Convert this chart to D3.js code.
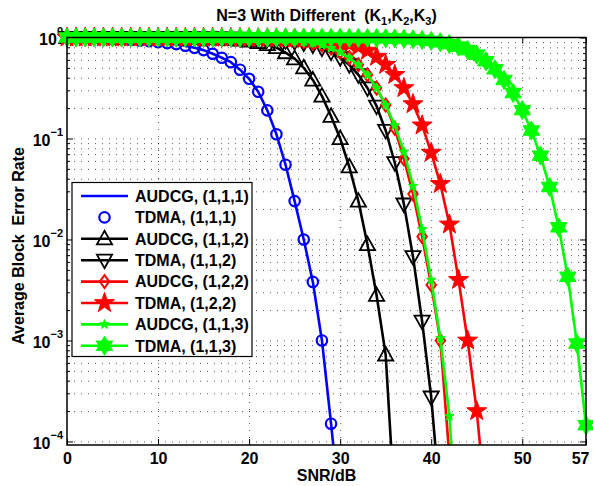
<!DOCTYPE html>
<html>
<head>
<meta charset="utf-8">
<title>N=3 With Different (K1,K2,K3)</title>
<script src="https://cdn.jsdelivr.net/npm/d3@7"></script>
<style>
  body { margin: 0; background: #fff; }
  svg text { font-family: "Liberation Sans", Arial, sans-serif; font-weight: bold; fill: #000; }
  .grid line { stroke: #000; stroke-opacity: 0.65; stroke-dasharray: 1,6; }
  .grid path { display: none; }
</style>
</head>
<body>
<svg id="vis" width="593" height="486"></svg>
<script>
// axis ticks
var xTicks = [0, 10, 20, 30, 40, 50, 57];
var yTicks = [1, 1e-1, 1e-2, 1e-3, 1e-4];
var yTickExp = ["0", "\u22121", "\u22122", "\u22123", "\u22124"];

// block error rate, one value per dB starting at 0 dB
var audcg111 = [1, 0.998, 0.995, 0.99, 0.985, 0.975, 0.965, 0.95, 0.935, 0.92,
  0.9, 0.88, 0.86, 0.83, 0.79, 0.75, 0.69, 0.63, 0.57, 0.48,
  0.39, 0.29, 0.19, 0.11, 0.055, 0.024, 0.01, 0.0038, 0.001, 0.00015, 0.00002];
var tdma111 = [1, 0.998, 0.995, 0.99, 0.985, 0.975, 0.965, 0.95, 0.935, 0.92,
  0.9, 0.88, 0.86, 0.83, 0.79, 0.75, 0.69, 0.63, 0.57, 0.48,
  0.39, 0.29, 0.19, 0.11, 0.055, 0.024, 0.01, 0.0038, 0.001, 0.00015, 0.00002];
var audcg112 = [1, 1, 0.999, 0.999, 0.998, 0.997, 0.996, 0.995, 0.994, 0.993,
  0.992, 0.991, 0.99, 0.988, 0.985, 0.982, 0.976, 0.968, 0.959, 0.944,
  0.923, 0.891, 0.851, 0.794, 0.708, 0.617, 0.501, 0.38, 0.263, 0.166,
  0.1, 0.0525, 0.024, 0.0089, 0.0028, 0.00072, 0.000022];
var tdma112 = [1, 1, 1, 0.999, 0.999, 0.999, 0.998, 0.998, 0.997, 0.996,
  0.995, 0.994, 0.993, 0.992, 0.991, 0.99, 0.988, 0.986, 0.984, 0.982,
  0.979, 0.973, 0.964, 0.951, 0.933, 0.912, 0.881, 0.841, 0.785, 0.716,
  0.631, 0.537, 0.427, 0.316, 0.209, 0.12, 0.0575, 0.0224, 0.00676, 0.00155,
  0.000275, 0.000024];
var audcg122 = [1, 1, 1, 1, 0.999, 0.999, 0.999, 0.998, 0.998, 0.997,
  0.997, 0.996, 0.995, 0.994, 0.992, 0.99, 0.988, 0.985, 0.982, 0.978,
  0.974, 0.969, 0.963, 0.958, 0.951, 0.933, 0.912, 0.881, 0.841, 0.785,
  0.716, 0.631, 0.537, 0.427, 0.316, 0.214, 0.126, 0.063, 0.0282, 0.0107,
  0.00355, 0.001, 0.0000708];
var tdma122 = [1, 1, 1, 1, 1, 0.999, 0.999, 0.999, 0.999, 0.998,
  0.998, 0.998, 0.997, 0.997, 0.996, 0.996, 0.995, 0.994, 0.993, 0.992,
  0.99, 0.988, 0.986, 0.983, 0.98, 0.977, 0.968, 0.957, 0.942, 0.923,
  0.895, 0.861, 0.813, 0.741, 0.646, 0.537, 0.427, 0.316, 0.219, 0.135,
  0.0724, 0.0355, 0.0141, 0.00398, 0.001, 0.0002, 0.0000234];
var audcg113 = [1, 1, 1, 1, 0.999, 0.999, 0.999, 0.998, 0.998, 0.997,
  0.997, 0.996, 0.995, 0.994, 0.992, 0.99, 0.988, 0.985, 0.982, 0.978,
  0.974, 0.969, 0.963, 0.958, 0.951, 0.933, 0.912, 0.881, 0.841, 0.785,
  0.716, 0.631, 0.537, 0.427, 0.316, 0.214, 0.135, 0.0741, 0.0339, 0.0126,
  0.00398, 0.00105, 0.000178, 0.0000071];
var tdma113 = [1, 1, 1, 1, 1, 1, 1, 1, 1, 1,
  0.999, 0.999, 0.999, 0.999, 0.999, 0.999, 0.999, 0.999, 0.998, 0.998,
  0.998, 0.998, 0.998, 0.997, 0.997, 0.997, 0.997, 0.996, 0.995, 0.994,
  0.993, 0.991, 0.99, 0.988, 0.986, 0.982, 0.979, 0.97, 0.959, 0.944,
  0.925, 0.897, 0.861, 0.813, 0.75, 0.676, 0.582, 0.484, 0.38, 0.282,
  0.191, 0.12, 0.0676, 0.0331, 0.0132, 0.00427, 0.000933, 0.000145];

var legendNames = ["AUDCG, (1,1,1)", "TDMA, (1,1,1)", "AUDCG, (1,1,2)", "TDMA, (1,1,2)",
  "AUDCG, (1,2,2)", "TDMA, (1,2,2)", "AUDCG, (1,1,3)", "TDMA, (1,1,3)"];

var W = 593, H = 486;
var L = 67, R = 586, T = 37.5, B = 445;

var svg = d3.select("#vis");

var x = d3.scaleLinear().domain([0, 57]).range([L, R]);
var y = d3.scaleLog().domain([Math.pow(10, -4.035), 1]).range([B, T]);

// marker shapes, size = radius
function polySym(pts) {
  return { draw: function (ctx, r) {
    pts.forEach(function (p, i) {
      if (i) ctx.lineTo(p[0] * r, p[1] * r); else ctx.moveTo(p[0] * r, p[1] * r);
    });
    ctx.closePath();
  } };
}
function starPts(n, inner) {
  var pts = [];
  for (var i = 0; i < 2 * n; i++) {
    var a = -Math.PI / 2 + i * Math.PI / n, rr = i % 2 ? inner : 1;
    pts.push([rr * Math.cos(a), rr * Math.sin(a)]);
  }
  return pts;
}
var symCircle = { draw: function (ctx, r) { ctx.moveTo(r, 0); ctx.arc(0, 0, r, 0, 2 * Math.PI); } };
var symUp = polySym([[0, -1], [0.95, 0.7], [-0.95, 0.7]]);
var symDown = polySym([[0, 1], [0.95, -0.7], [-0.95, -0.7]]);
var symDiamond = polySym([[0, -1], [0.72, 0], [0, 1], [-0.72, 0]]);
var symPenta = polySym(starPts(5, 0.4));
var symHexa = polySym(starPts(6, 0.577));

var series = [
  { name: legendNames[0], values: audcg111, color: "#0000ff", line: true, marker: null },
  { name: legendNames[1], values: tdma111, color: "#0000ff", line: false, marker: symCircle, r: 5.2, fill: "none", sw: 2.2 },
  { name: legendNames[2], values: audcg112, color: "#000000", line: true, marker: symUp, r: 8, fill: "none", sw: 1.8 },
  { name: legendNames[3], values: tdma112, color: "#000000", line: true, marker: symDown, r: 8, fill: "none", sw: 1.8 },
  { name: legendNames[4], values: audcg122, color: "#ff0000", line: true, marker: symDiamond, r: 6.5, fill: "none", sw: 2 },
  { name: legendNames[5], values: tdma122, color: "#ff0000", line: true, marker: symPenta, r: 10.5, fill: "#ff0000", sw: 1 },
  { name: legendNames[6], values: audcg113, color: "#00ff00", line: true, marker: symPenta, r: 5, fill: "#00ff00", sw: 1 },
  { name: legendNames[7], values: tdma113, color: "#00ff00", line: true, marker: symHexa, r: 9.5, fill: "#00ff00", sw: 1 }
];

// grid
var yAll = y.ticks().filter(function (v) { return v < 0.999; });
svg.append("g").attr("class", "grid").attr("transform", "translate(0," + B + ")")
  .call(d3.axisBottom(x).tickValues(xTicks.slice(1, -1)).tickSize(-(B - T)).tickFormat(""));
svg.append("g").attr("class", "grid").attr("transform", "translate(" + L + ",0)")
  .call(d3.axisLeft(y).tickValues(yAll).tickSize(-(R - L)).tickFormat(""));

// ticks + labels
var minors = yAll.filter(function (v) { return yTicks.indexOf(v) < 0; });
function tickAxis(axis, tr) {
  var g = svg.append("g").attr("transform", tr).call(axis);
  g.select(".domain").remove();
  g.selectAll(".tick line").attr("stroke", "#000");
  return g;
}
var gx = tickAxis(d3.axisBottom(x).tickValues(xTicks).tickSizeInner(-6).tickSizeOuter(0).tickPadding(8)
  .tickFormat(function (d) { return d; }), "translate(0," + B + ")");
gx.selectAll("text").attr("font-size", 16).attr("font-family", null);
// last label sits flush with the right border
gx.selectAll("text").filter(function (d) { return d === 57; })
  .attr("text-anchor", "end").attr("x", 3);
tickAxis(d3.axisTop(x).tickValues(xTicks).tickSizeInner(-6).tickSizeOuter(0).tickFormat(""), "translate(0," + T + ")");
tickAxis(d3.axisLeft(y).tickValues(minors).tickSizeInner(-3).tickSizeOuter(0).tickFormat(""), "translate(" + L + ",0)");
tickAxis(d3.axisRight(y).tickValues(minors).tickSizeInner(-3).tickSizeOuter(0).tickFormat(""), "translate(" + R + ",0)");
tickAxis(d3.axisRight(y).tickValues(yTicks).tickSizeInner(-6).tickSizeOuter(0).tickFormat(""), "translate(" + R + ",0)");
var gy = tickAxis(d3.axisLeft(y).tickValues(yTicks).tickSizeInner(-6).tickSizeOuter(0).tickPadding(4)
  .tickFormat(""), "translate(" + L + ",0)");
gy.selectAll(".tick text").each(function (d, i) {
  var t = d3.select(this).text(null).attr("dy", null).attr("y", 7)
    .attr("font-size", 16).attr("font-family", null);
  t.append("tspan").text("10");
  t.append("tspan").attr("dy", -10).attr("font-size", 11).text(yTickExp[i]);
});

// curves
svg.append("clipPath").attr("id", "plotclip")
  .append("rect").attr("x", L).attr("y", T).attr("width", R - L).attr("height", B - T);

var line = d3.line().x(function (d, i) { return x(i); }).y(function (d) { return y(d); });
var ymin = y.domain()[0];

series.forEach(function (s) {
  if (s.line) {
    svg.append("path").attr("clip-path", "url(#plotclip)")
      .attr("d", line(s.values)).attr("fill", "none")
      .attr("stroke", s.color).attr("stroke-width", 2.6).attr("stroke-linejoin", "round");
  }
  if (s.marker) {
    var pts = s.values.map(function (v, i) { return [i, v]; })
      .filter(function (p) { return p[1] >= ymin && p[0] <= 57; });
    svg.append("g").selectAll("path").data(pts).enter().append("path")
      .attr("transform", function (p) { return "translate(" + x(p[0]) + "," + y(p[1]) + ")"; })
      .attr("d", d3.symbol().type(s.marker).size(s.r))
      .attr("fill", s.fill).attr("stroke", s.color).attr("stroke-width", s.sw)
      .attr("stroke-linejoin", "miter");
  }
});

// box
svg.append("rect").attr("x", L).attr("y", T).attr("width", R - L).attr("height", B - T)
  .attr("fill", "none").attr("stroke", "#000").attr("stroke-width", 1.5);

// legend
var lg = svg.append("g");
lg.append("rect").attr("x", 72).attr("y", 182.5).attr("width", 180).attr("height", 174)
  .attr("fill", "#fff").attr("stroke", "#000").attr("stroke-width", 1.2);
series.forEach(function (s, i) {
  var yy = 196 + i * 21.4;
  if (s.line) {
    lg.append("line").attr("x1", 81).attr("x2", 128).attr("y1", yy).attr("y2", yy)
      .attr("stroke", s.color).attr("stroke-width", 2.6);
  }
  if (s.marker) {
    lg.append("path").attr("transform", "translate(104.5," + yy + ")")
      .attr("d", d3.symbol().type(s.marker).size(s.r))
      .attr("fill", s.fill).attr("stroke", s.color).attr("stroke-width", s.sw);
  }
  lg.append("text").attr("x", 135).attr("y", yy + 5.8).attr("font-size", 16).text(s.name);
});

// titles
var title = svg.append("text").attr("x", (L + R) / 2).attr("y", 21)
  .attr("text-anchor", "middle").attr("font-size", 16);
title.append("tspan").text("N=3 With Different\u00a0\u00a0(K");
title.append("tspan").attr("font-size", 11).attr("dy", 4).text("1");
title.append("tspan").attr("dy", -4).text(",K");
title.append("tspan").attr("font-size", 11).attr("dy", 4).text("2");
title.append("tspan").attr("dy", -4).text(",K");
title.append("tspan").attr("font-size", 11).attr("dy", 4).text("3");
title.append("tspan").attr("dy", -4).text(")");

svg.append("text").attr("x", (L + R) / 2).attr("y", 481)
  .attr("text-anchor", "middle").attr("font-size", 16).text("SNR/dB");

svg.append("text").attr("transform", "translate(24,246) rotate(-90)")
  .attr("text-anchor", "middle").attr("font-size", 16).text("Average Block\u00a0\u00a0Error Rate");
</script>
</body>
</html>
